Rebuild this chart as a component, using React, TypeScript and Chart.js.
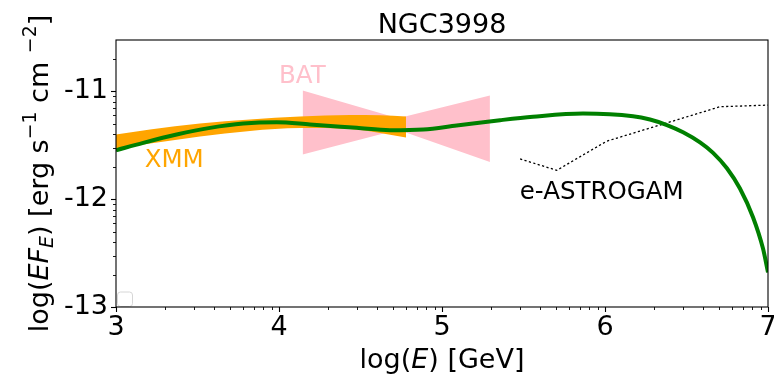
import { useEffect, useRef } from "react";
import { Chart, registerables } from "chart.js";

Chart.register(...registerables);

// Axis ranges in log10 units
const X_MIN = 3;
const X_MAX = 7;
const Y_MIN = -13;
const Y_MAX = -10.523;

const X_TICKS = [3, 4, 5, 6, 7];
const Y_TICKS = [-13, -12, -11];

// Broadband model curve: log10(E/GeV) vs log10(E F_E)
const modelLogE = [3.0, 3.167, 3.372, 3.577, 3.781, 3.986, 4.19, 4.477, 4.681, 4.885, 5.09, 5.356, 5.558, 5.865, 6.172, 6.276, 6.38, 6.479, 6.583, 6.663, 6.748, 6.828, 6.908, 6.969, 7.0];
const modelLogF = [-11.546, -11.477, -11.4, -11.338, -11.298, -11.286, -11.307, -11.338, -11.36, -11.353, -11.316, -11.267, -11.235, -11.205, -11.23, -11.261, -11.312, -11.379, -11.473, -11.57, -11.713, -11.901, -12.167, -12.456, -12.679];

// XMM butterfly
const xmmLogE = [3.0, 3.209, 3.515, 3.822, 4.129, 4.436, 4.62, 4.779];
const xmmUpper = [-11.4, -11.353, -11.298, -11.26, -11.233, -11.219, -11.222, -11.233];
const xmmLower = [-11.53, -11.484, -11.419, -11.367, -11.34, -11.349, -11.385, -11.428];

// BAT butterfly
const batLogE = [4.145, 4.73, 5.294];
const batUpper = [-10.991, -11.248, -11.037];
const batLower = [-11.586, -11.356, -11.654];

// e-ASTROGAM sensitivity
const astroLogE = [5.479, 5.704, 6.01, 6.706, 7.0];
const astroLogF = [-11.626, -11.732, -11.462, -11.142, -11.127];

// Label anchors (log10 E, log10 flux)
const labelBAT = { x: 4.0, y: -10.921, text: "BAT", color: "#FFC0CB" };
const labelXMM = { x: 3.176, y: -11.705, text: "XMM", color: "#FFA500" };
const labelAstro = { x: 5.477, y: -12.0, text: "e-ASTROGAM", color: "#000000" };

const FONT = '"DejaVu Sans", "DejaVu Sans Book", sans-serif';

const pts = (xs: number[], ys: number[]) => xs.map((x, i) => ({ x, y: ys[i] }));

type Run = { t: string; it?: boolean; sc?: "sub" | "sup" };

function drawRich(ctx: CanvasRenderingContext2D, runs: Run[], cx: number, cy: number, size: number, rotate: boolean) {
  ctx.save();
  ctx.translate(cx, cy);
  if (rotate) ctx.rotate(-Math.PI / 2);
  const fontFor = (r: Run) => `${r.it ? "italic " : ""}${r.sc ? size * 0.7 : size}px ${FONT}`;
  let total = 0;
  const widths = runs.map((r) => {
    ctx.font = fontFor(r);
    const w = ctx.measureText(r.t).width;
    total += w;
    return w;
  });
  let x = -total / 2;
  ctx.textAlign = "left";
  ctx.textBaseline = "alphabetic";
  ctx.fillStyle = "#000";
  runs.forEach((r, i) => {
    ctx.font = fontFor(r);
    const dy = r.sc === "sup" ? -size * 0.45 : r.sc === "sub" ? size * 0.2 : 0;
    ctx.fillText(r.t, x, dy);
    x += widths[i];
  });
  ctx.restore();
}

const minorPositions = (lo: number, hi: number) => {
  const out: number[] = [];
  for (let d = Math.floor(lo); d < hi; d++) {
    for (let k = 2; k <= 9; k++) {
      const v = d + Math.log10(k);
      if (v >= lo && v <= hi + 1e-9) out.push(v);
    }
  }
  return out;
};

const framePlugin = {
  id: "frameAndText",
  afterDatasetsDraw(chart: any) {
    const { ctx, chartArea: a, scales } = chart;
    const xs = scales.x;
    const ys = scales.y;
    ctx.save();

    // empty legend frame in the lower-left corner
    ctx.fillStyle = "rgba(255,255,255,0.8)";
    ctx.strokeStyle = "#d6d6d6";
    ctx.lineWidth = 1;
    ctx.beginPath();
    ctx.roundRect(a.left + 1.5, a.bottom - 15, 15, 14.5, 3);
    ctx.fill();
    ctx.stroke();

    // annotations
    ctx.font = `24.5px ${FONT}`;
    ctx.textAlign = "left";
    ctx.textBaseline = "alphabetic";
    for (const l of [labelBAT, labelXMM, labelAstro]) {
      ctx.fillStyle = l.color;
      ctx.fillText(l.text, xs.getPixelForValue(l.x), ys.getPixelForValue(l.y));
    }

    // ticks
    ctx.strokeStyle = "#000";
    const tick = (x1: number, y1: number, x2: number, y2: number, w: number) => {
      ctx.lineWidth = w;
      ctx.beginPath();
      ctx.moveTo(x1, y1);
      ctx.lineTo(x2, y2);
      ctx.stroke();
    };
    for (const v of X_TICKS) {
      const p = Math.round(xs.getPixelForValue(v)) + 0.5;
      tick(p, a.bottom, p, a.bottom + 5, 1.1);
    }
    for (const v of minorPositions(X_MIN, X_MAX)) {
      const p = Math.round(xs.getPixelForValue(v)) + 0.5;
      tick(p, a.bottom, p, a.bottom + 3, 0.9);
    }
    for (const v of Y_TICKS) {
      const p = Math.round(ys.getPixelForValue(v)) + 0.5;
      tick(a.left, p, a.left - 5, p, 1.1);
    }
    for (const v of minorPositions(Y_MIN, Y_MAX)) {
      const p = Math.round(ys.getPixelForValue(v)) + 0.5;
      tick(a.left, p, a.left - 3, p, 0.9);
    }

    // axes frame
    ctx.lineWidth = 1.1;
    ctx.strokeRect(a.left, a.top, a.right - a.left, a.bottom - a.top);

    // title
    ctx.fillStyle = "#000";
    ctx.font = `27px ${FONT}`;
    ctx.textAlign = "center";
    ctx.fillText("NGC3998", (a.left + a.right) / 2, 33);

    // axis titles
    drawRich(ctx, [{ t: "log(" }, { t: "E", it: true }, { t: ") [GeV]" }], (a.left + a.right) / 2, 368, 27, false);
    drawRich(
      ctx,
      [
        { t: "log(" },
        { t: "EF", it: true },
        { t: "E", it: true, sc: "sub" },
        { t: ") [erg s" },
        { t: "\u22121", sc: "sup" },
        { t: " cm " },
        { t: "\u22122", sc: "sup" },
        { t: "]" },
      ],
      48,
      (a.top + a.bottom) / 2,
      27,
      true
    );
    ctx.restore();
  },
};

export default function App() {
  const ref = useRef<HTMLCanvasElement | null>(null);

  useEffect(() => {
    if (!ref.current) return;
    const chart = new Chart(ref.current, {
      type: "line",
      data: {
        datasets: [
          {
            label: "model",
            data: pts(modelLogE, modelLogF),
            borderColor: "#008000",
            borderWidth: 4,
            pointRadius: 0,
            cubicInterpolationMode: "monotone",
            fill: false,
            order: 0,
            clip: 0,
          },
          {
            label: "e-ASTROGAM",
            data: pts(astroLogE, astroLogF),
            borderColor: "#000",
            borderWidth: 1.3,
            borderDash: [2.2, 2.4],
            pointRadius: 0,
            tension: 0,
            fill: false,
            order: 0,
            clip: 0,
          },
          {
            label: "XMM upper",
            data: pts(xmmLogE, xmmUpper),
            borderColor: "rgba(0,0,0,0)",
            borderWidth: 0,
            backgroundColor: "#FFA500",
            pointRadius: 0,
            cubicInterpolationMode: "monotone",
            fill: "+1",
            order: 1,
            clip: 0,
          },
          {
            label: "XMM lower",
            data: pts(xmmLogE, xmmLower),
            borderColor: "rgba(0,0,0,0)",
            borderWidth: 0,
            pointRadius: 0,
            cubicInterpolationMode: "monotone",
            fill: false,
            order: 1,
            clip: 0,
          },
          {
            label: "BAT upper",
            data: pts(batLogE, batUpper),
            borderColor: "rgba(0,0,0,0)",
            borderWidth: 0,
            backgroundColor: "#FFC0CB",
            pointRadius: 0,
            tension: 0,
            fill: "+1",
            order: 2,
            clip: 0,
          },
          {
            label: "BAT lower",
            data: pts(batLogE, batLower),
            borderColor: "rgba(0,0,0,0)",
            borderWidth: 0,
            pointRadius: 0,
            tension: 0,
            fill: false,
            order: 2,
            clip: 0,
          },
        ],
      },
      options: {
        responsive: false,
        animation: false,
        devicePixelRatio: 1,
        layout: { padding: { left: 0, right: 6, top: 40, bottom: 0 } },
        plugins: {
          legend: { display: false },
          tooltip: { enabled: false },
          title: { display: false },
        },
        scales: {
          x: {
            type: "linear",
            min: X_MIN,
            max: X_MAX,
            grid: { display: false, drawTicks: false },
            border: { display: false },
            ticks: {
              font: { family: FONT, size: 27 },
              color: "#000",
              padding: 5,
              autoSkip: false,
              maxRotation: 0,
              callback: (v: any) => String(v),
            },
            afterBuildTicks: (s: any) => {
              s.ticks = X_TICKS.map((v) => ({ value: v }));
            },
            afterFit: (s: any) => {
              s.height = 69;
              s.paddingLeft = 0;
              s.paddingRight = 0;
            },
          },
          y: {
            type: "linear",
            min: Y_MIN,
            max: Y_MAX,
            grid: { display: false, drawTicks: false },
            border: { display: false },
            ticks: {
              font: { family: FONT, size: 27 },
              color: "#000",
              padding: 8,
              autoSkip: false,
              callback: (v: any) => String(v),
            },
            afterBuildTicks: (s: any) => {
              s.ticks = Y_TICKS.map((v) => ({ value: v }));
            },
            afterFit: (s: any) => {
              s.width = 116;
              s.paddingTop = 0;
              s.paddingBottom = 0;
            },
          },
        },
      },
      plugins: [framePlugin],
    });
    return () => chart.destroy();
  }, []);

  return (
    <div style={{ position: "fixed", left: 0, top: 0, width: 774, height: 376, background: "#fff" }}>
      <canvas ref={ref} width={774} height={376} style={{ display: "block" }} />
    </div>
  );
}
